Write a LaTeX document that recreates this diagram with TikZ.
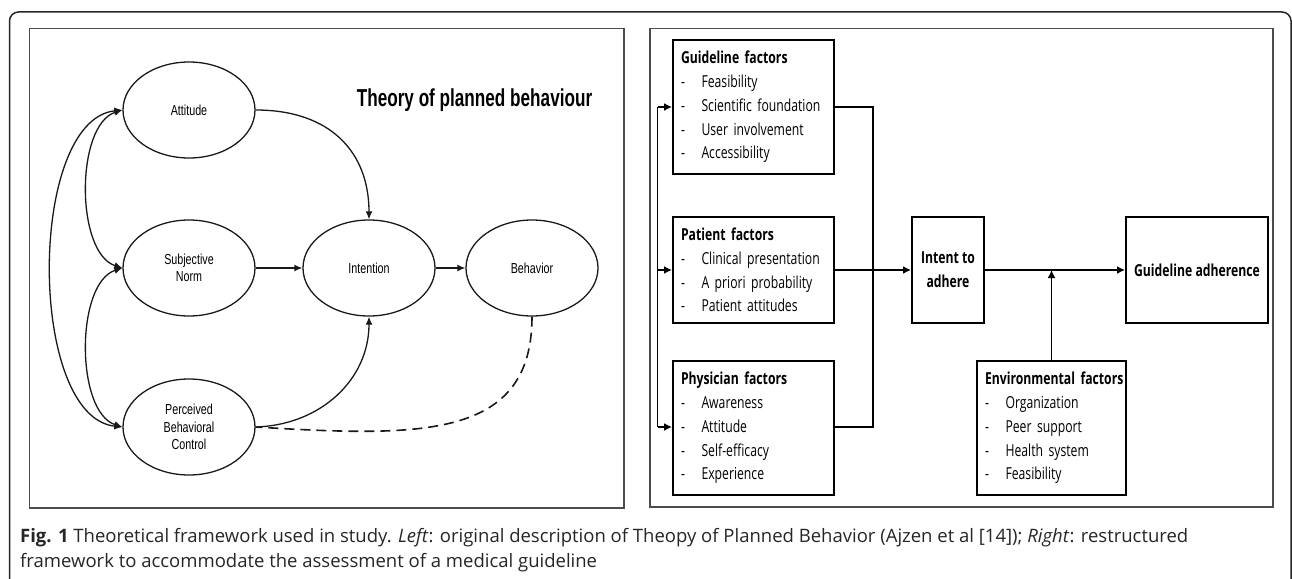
\documentclass[tikz,border=0pt]{standalone}
\usepackage{fontspec}
\setmainfont{Open Sans}
\newfontfamily\ellfont[FakeStretch=0.74]{Liberation Sans}
\newfontfamily\titlefont[FakeStretch=0.7]{Liberation Sans}
\newfontfamily\boxfont[FakeStretch=0.74]{Open Sans}
\usetikzlibrary{shapes.geometric,arrows.meta}
\newcommand\lstitem[1]{\makebox[20.5pt][l]{-}#1}
\begin{document}
\begin{tikzpicture}[x=1pt,y=-1pt,
  ell/.style={ellipse,draw=black!90,line width=1.3pt,minimum width=132pt,minimum height=96pt,inner sep=0pt,align=center,font=\ellfont\fontsize{14.5}{17.5}\selectfont},
  lline/.style={line width=1.3pt,black!90},
  ltip/.style={lline,-{Latex[length=8pt,width=7pt]}},
  lboth/.style={lline,{Latex[length=8pt,width=7pt]}-{Latex[length=8pt,width=7pt]}},
  ldash/.style={lline,line width=1.6pt,dash pattern=on 10pt off 6pt},
  fbox/.style={draw,line width=1.9pt,inner xsep=8pt,inner ysep=0pt,align=left,font=\boxfont\fontsize{16.5}{23.7}\selectfont},
  cbox/.style={draw,line width=1.9pt,inner sep=0pt,align=center,font=\boxfont\bfseries\fontsize{16.5}{24}\selectfont},
  rline/.style={line width=1.8pt},
  rtip/.style={rline,-{Latex[length=8pt,width=8pt]}},
  panel/.style={draw=black!70,line width=1.1pt},
  frame/.style={draw=black!85,line width=1.5pt,rounded corners=9pt}
]
\useasboundingbox (0,0) rectangle (1292,578);
\clip (0,0) rectangle (1292,578);
% outer frame
\draw[frame] (9.5,600) -- (9.5,12) -- (1291,12) -- (1291,600);
% panels
\draw[panel] (29.5,28.5) rectangle (624,508);
\draw[panel] (650,28.5) rectangle (1273,507);

% ---------- left panel ----------
\node[ell] (att) at (189,110) {Attitude};
\node[ell] (sn) at (189,268) {Subjective\\Norm};
\node[ell] (pbc) at (189,427) {Perceived\\Behavioral\\Control};
\node[ell] (int) at (369,268) {Intention};
\node[ell] (beh) at (532,268) {Behavior};
\node[font=\titlefont\bfseries\fontsize{24.5}{28}\selectfont] (title) at (474.5,100) {Theory of planned behaviour};

\draw[lboth] (att.west) .. controls +(-47,15) and +(-47,-15) .. (sn.west);
\draw[lboth] (sn.west) .. controls +(-47,15) and +(-47,-15) .. (pbc.west);
\draw[lboth] (att.west) .. controls +(-95,10) and +(-95,-10) .. (pbc.west);
\draw[ltip] (att.east) .. controls +(75,0) and +(0,-67) .. (int.north);
\draw[ltip] (sn.east) -- (int.west);
\draw[ltip] (int.east) -- (beh.west);
\draw[ltip] (pbc.east) .. controls +(65,-2) and +(0,63) .. (int.south);
\draw[ldash] (beh.south) .. controls +(0,123) and +(165,10) .. (pbc.east);

% ---------- right panel ----------
\node[fbox,text width=145pt,minimum height=134pt] (gf) at (753.5,107)
  {\textbf{Guideline factors}\\\lstitem{Feasibility}\\\lstitem{Scientific foundation}\\\lstitem{User involvement}\\\lstitem{Accessibility}};
\node[fbox,text width=145pt,minimum height=106pt] (pf) at (753.5,270)
  {\textbf{Patient factors}\\\lstitem{Clinical presentation}\\\lstitem{A priori probability}\\\lstitem{Patient attitudes}};
\node[fbox,text width=145pt,minimum height=134pt] (phf) at (753.5,428)
  {\textbf{Physician factors}\\\lstitem{Awareness}\\\lstitem{Attitude}\\\lstitem{Self-efficacy}\\\lstitem{Experience}};
\node[cbox,minimum width=72pt,minimum height=106pt] (ia) at (948,270) {Intent to\\adhere};
\node[cbox,minimum width=142pt,minimum height=106pt] (ga) at (1197,270) {Guideline adherence};
\node[fbox,text width=133pt,minimum height=134pt] (ef) at (1051.5,428)
  {\mbox{\textbf{Environmental factors}}\\\lstitem{Organization}\\\lstitem{Peer support}\\\lstitem{Health system}\\\lstitem{Feasibility}};

\coordinate (fbt) at (657.5,107);
\coordinate (fbb) at (657.5,427);
\coordinate (cbt) at (873,107);
\coordinate (cbb) at (873,427);
\draw[rline] (fbt) -- (fbb);
\draw[rtip] (fbt) -- (fbt -| gf.west);
\draw[rtip] (fbt |- pf.west) -- (pf.west);
\draw[rtip] (fbb) -- (fbb -| phf.west);
\draw[rline] (cbt -| gf.east) -- (cbt) -- (cbb) -- (cbb -| phf.east);
\draw[rtip] (pf.east) -- (ia.west);
\draw[rtip] (ia.east) -- (ga.west);
\draw[rtip] (ef.north) -- (ef.north |- ia.east);

% ---------- caption ----------
\node[anchor=base west,inner sep=0pt,text=black!85,font=\fontsize{18.5}{25}\selectfont] (cap1) at (20,542)
  {\textbf{Fig. 1} Theoretical framework used in study. \textit{Left}: original description of Theopy of Planned Behavior (Ajzen et al [14]); \textit{Right}: restructured};
\node[anchor=base west,inner sep=0pt,text=black!85,font=\fontsize{18.5}{25}\selectfont] (cap2) at (20,567)
  {framework to accommodate the assessment of a medical guideline};
\end{tikzpicture}
\end{document}
